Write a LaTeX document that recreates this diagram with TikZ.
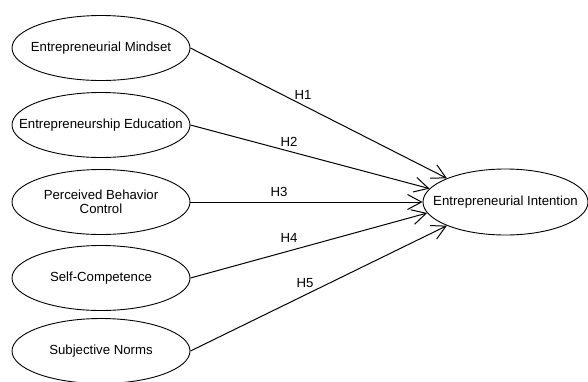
\documentclass[tikz,border=0pt]{standalone}
\usepackage{fontspec}
\setmainfont{Liberation Sans}
\usetikzlibrary{shapes.geometric,arrows.meta}
\begin{document}
\begin{tikzpicture}[x=1pt,y=-1pt,
  latent/.style={draw, ellipse, line width=0.9pt, inner xsep=-50pt, inner ysep=-20pt, minimum width=178pt, minimum height=65pt, align=center, font=\fontsize{13.2}{14.5}\selectfont},
  path/.style={draw, line width=1pt, -{Straight Barb[length=14pt,width=15pt,line width=1pt]}},
  hlab/.style={font=\fontsize{13.2}{14.5}\selectfont, inner sep=0pt}]
\useasboundingbox (0,0) rectangle (588,381);
\node[latent] (m) at (101,48) {Entrepreneurial Mindset};
\node[latent] (e) at (101,125) {Entrepreneurship Education};
\node[latent] (p) at (101,202) {Perceived Behavior\\Control};
\node[latent] (s) at (101,278) {Self-Competence};
\node[latent] (n) at (101,351) {Subjective Norms};
\node[latent, minimum width=165pt, minimum height=66pt] (t) at (505.5,202) {Entrepreneurial Intention};
\draw[path] (m.east) -- (t.158);
\draw[path] (e.east) -- (t.170);
\draw[path] (p.east) -- (t.180);
\draw[path] (s.east) -- (t.188);
\draw[path] (n.east) -- (t.202);
\node[hlab] (h1) at (303,95) {H1};
\node[hlab] (h2) at (289,142) {H2};
\node[hlab] (h3) at (279,192) {H3};
\node[hlab] (h4) at (289,238) {H4};
\node[hlab] (h5) at (305,283) {H5};
\end{tikzpicture}
\end{document}
